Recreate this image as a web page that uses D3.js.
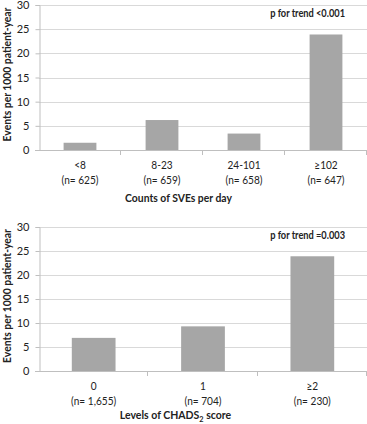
<!DOCTYPE html>
<html><head><meta charset="utf-8">
<script src="https://cdn.jsdelivr.net/npm/d3@7"></script>
<style>
body{margin:0;background:#fff;}
svg text{font-family:Lato,"Open Sans",sans-serif;fill:#222;}
</style></head>
<body>
<svg id="c" width="367" height="424"></svg>
<script>
const topCats = ["<8","8-23","24-101","≥102"];
const topN = ["(n= 625)","(n= 659)","(n= 658)","(n= 647)"];
const topVals = [1.5, 6.2, 3.4, 23.9];
const topTitle = "Counts of SVEs per day";
const topP = "p for trend <0.001";

const botCats = ["0","1","≥2"];
const botN = ["(n= 1,655)","(n= 704)","(n= 230)"];
const botVals = [6.9, 9.3, 23.9];
const botP = "p for trend =0.003";

const yTicks = [0,5,10,15,20,25,30];
const yLabel = "Events per 1000 patient-year";

const svg = d3.select("#c");

// horizontal compression to mimic a narrow (Calibri-like) face
function squeeze(group, text, target) {
  const w = text.node().getComputedTextLength();
  const sx = Math.min(1, target / w);
  const t = group.attr("transform") || "";
  group.attr("transform", t + ` scale(${sx.toFixed(3)},1)`);
  return sx;
}
// category label compression factor from "(n= 625)" ~37px
const probe = svg.append("text").style("font-size","11px").text(topN[0]);
const catSx = Math.min(1, 37 / probe.node().getComputedTextLength());
probe.remove();

function panel(cats, ns, vals, pText, titleFn, y0px, y30px, titleY) {
  const g = svg.append("g");
  const xb = d3.scaleBand().domain(cats).range([39, 367]);
  const y = d3.scaleLinear().domain([0,30]).range([y0px, y30px]);
  g.selectAll("line.grid").data(yTicks.filter(d=>d>0)).join("line")
    .attr("x1",39).attr("x2",367).attr("y1",d=>Math.round(y(d))+0.5).attr("y2",d=>Math.round(y(d))+0.5)
    .attr("stroke","#d9d9d9").attr("stroke-width",1);
  g.selectAll("rect").data(vals).join("rect")
    .attr("x",(d,i)=>xb(cats[i]) + xb.bandwidth()*0.3)
    .attr("width",xb.bandwidth()*0.4)
    .attr("y",d=>y(d)).attr("height",d=>y(0)-y(d))
    .attr("fill","#a6a6a6");
  const ya = d3.axisLeft(y).tickValues(yTicks).tickSize(4).tickPadding(6);
  const yg = g.append("g").attr("transform","translate(39.5,0)").call(ya);
  yg.select(".domain").attr("stroke","#bfbfbf");
  yg.selectAll(".tick line").attr("stroke","#bfbfbf");
  yg.selectAll(".tick text").style("font-size","11px").attr("fill","#333").style("font-family","Lato,sans-serif");
  g.append("line").attr("x1",35).attr("x2",367).attr("y1",Math.round(y(0))+0.5).attr("y2",Math.round(y(0))+0.5).attr("stroke","#bfbfbf");
  const bounds = cats.map(c=>xb(c)).concat([367]);
  g.selectAll("line.bt").data(bounds.slice(1)).join("line")
    .attr("x1",d=>Math.round(d)-0.5).attr("x2",d=>Math.round(d)-0.5)
    .attr("y1",y(0)).attr("y2",y(0)+5).attr("stroke","#bfbfbf");
  cats.forEach((c,i)=>{
    const cx = xb(c)+xb.bandwidth()/2;
    [[c,18.5],[ns[i],33.5]].forEach(([s,dy])=>{
      g.append("g").attr("transform",`translate(${cx},${y(0)+dy}) scale(${catSx.toFixed(3)},1)`)
        .append("text").attr("text-anchor","middle").style("font-size","11px").text(s);
    });
  });
  const pg = g.append("g").attr("transform",`translate(345,${y30px+12})`);
  const p = pg.append("text").attr("text-anchor","end").style("font-weight","bold").style("font-size","10.5px").text(pText);
  squeeze(pg, p, 75);
  const lg = g.append("g").attr("transform",`translate(11,${(y0px+y30px)/2-3}) rotate(-90)`);
  const yl = lg.append("text").attr("text-anchor","middle").style("font-weight","bold").style("font-size","10.5px").text(yLabel);
  squeeze(lg, yl, 134);
  titleFn(g, titleY);
}

panel(topCats, topN, topVals, topP, (g,yy)=>{
  const tg = g.append("g").attr("transform",`translate(178.5,${yy})`);
  const t = tg.append("text").attr("text-anchor","middle").style("font-weight","bold").style("font-size","10.5px").text(topTitle);
  squeeze(tg, t, 107);
}, 150, 5, 202);

panel(botCats, botN, botVals, botP, (g,yy)=>{
  const tg = g.append("g").attr("transform",`translate(175.5,${yy})`);
  const t = tg.append("text").attr("text-anchor","middle").style("font-weight","bold").style("font-size","10.5px");
  t.append("tspan").text("Levels of CHADS");
  t.append("tspan").attr("dy",3).style("font-size","0.7em").text("2");
  t.append("tspan").attr("dy",-3).text(" score");
  squeeze(tg, t, 117);
}, 371, 227, 419);
</script>
</body></html>
